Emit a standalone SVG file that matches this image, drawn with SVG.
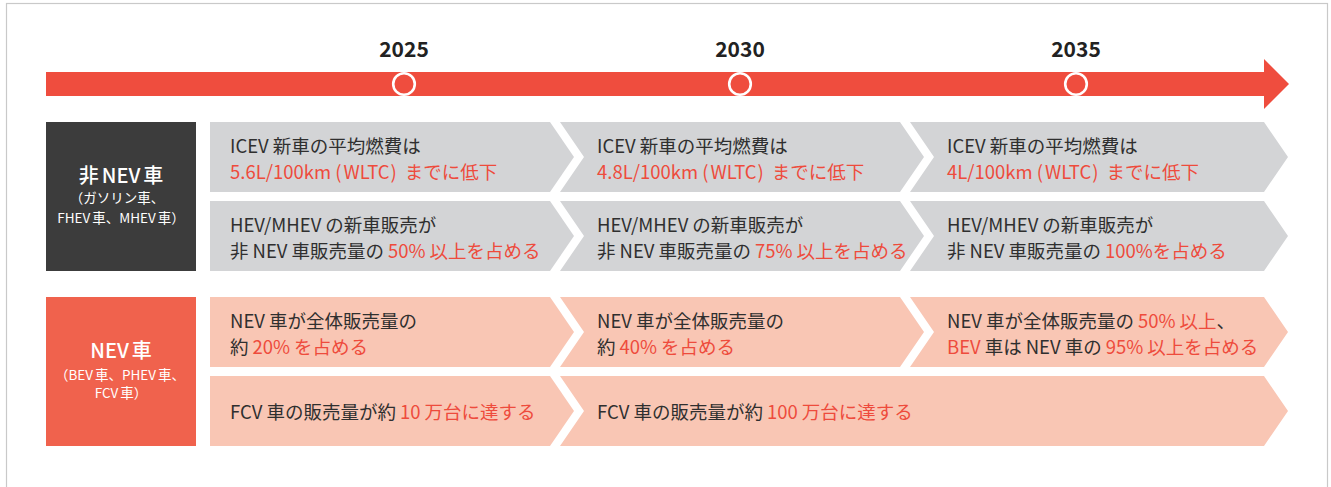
<svg xmlns="http://www.w3.org/2000/svg" width="1331" height="487" viewBox="0 0 1331 487">
<style>
.frame{fill:#fff;stroke:#c9c9c9;stroke-width:1.2}
.g{fill:#d3d4d6}
.p{fill:#f9c6b4}
.t{font-family:"Noto Sans CJK JP","Noto Sans",sans-serif;font-size:18.5px;fill:#2f2f2f;font-weight:400}
.r{fill:#ee4b3c}
.yr{font-family:"Noto Sans CJK JP","Noto Sans",sans-serif;font-size:21px;font-weight:700;fill:#222;text-anchor:middle}
.h{font-family:"Noto Sans CJK JP","Noto Sans",sans-serif;fill:#fff;text-anchor:middle}
.h1{font-size:20px;font-weight:500}
.h2{font-size:13.5px;font-weight:400}
.dot{fill:none;stroke:#fff;stroke-width:2.6}
</style>
<rect class="frame" x="6.5" y="3.5" width="1321" height="520"/>
<g id="timeline">
  <polygon fill="#ef4d3e" points="46,72 1264,72 1264,59 1289,84 1264,109 1264,96 46,96"/>
  <circle class="dot" cx="404" cy="84" r="10.8"/>
  <circle class="dot" cx="740" cy="84" r="10.8"/>
  <circle class="dot" cx="1076" cy="84" r="10.8"/>
  <text class="yr" x="404" y="57">2025</text>
  <text class="yr" x="740" y="57">2030</text>
  <text class="yr" x="1076" y="57">2035</text>
</g>
<g id="cat-nonnev">
  <rect x="46" y="122" width="150" height="149" fill="#3c3c3c"/>
  <text class="h h1" x="121" y="183">非<tspan dx="3">NEV</tspan><tspan dx="3">車</tspan></text>
  <text class="h h2" x="117" y="203">（ガソリン車、</text>
  <text class="h h2" x="121" y="223">FHEV<tspan dx="2">車、</tspan>MHEV<tspan dx="2">車）</tspan></text>
</g>
<g id="cat-nev">
  <rect x="46" y="297" width="150" height="149" fill="#f0624d"/>
  <text class="h h1" x="121" y="358">NEV<tspan dx="3">車</tspan></text>
  <text class="h h2" x="120" y="380">（BEV<tspan dx="2">車、</tspan>PHEV<tspan dx="2">車、</tspan></text>
  <text class="h h2" x="121" y="398">FCV<tspan dx="2">車）</tspan></text>
</g>
<g id="r1c1">
  <polygon class="g" points="210,122 550,122 574,157 550,192 210,192"/>
  <text class="t" x="230" y="153">ICEV<tspan dx="4">新車の平均燃費は</tspan></text>
  <text class="t r" x="230" y="179">5.6L/100km<tspan dx="4">(</tspan><tspan dx="2">WLTC</tspan><tspan dx="1">)</tspan><tspan dx="8">までに低下</tspan></text>
</g>
<g id="r1c2">
  <polygon class="g" points="560,122 900,122 924,157 900,192 560,192 584,157"/>
  <text class="t" x="597" y="153">ICEV<tspan dx="4">新車の平均燃費は</tspan></text>
  <text class="t r" x="597" y="179">4.8L/100km<tspan dx="4">(</tspan><tspan dx="2">WLTC</tspan><tspan dx="1">)</tspan><tspan dx="8">までに低下</tspan></text>
</g>
<g id="r1c3">
  <polygon class="g" points="910,122 1264,122 1288,157 1264,192 910,192 934,157"/>
  <text class="t" x="947" y="153">ICEV<tspan dx="4">新車の平均燃費は</tspan></text>
  <text class="t r" x="947" y="179">4L/100km<tspan dx="4">(</tspan><tspan dx="2">WLTC</tspan><tspan dx="1">)</tspan><tspan dx="8">までに低下</tspan></text>
</g>
<g id="r2c1">
  <polygon class="g" points="210,201 550,201 574,236 550,271 210,271"/>
  <text class="t" x="230" y="232">HEV/MHEV<tspan dx="4">の新車販売が</tspan></text>
  <text class="t" x="230" y="258">非<tspan dx="4">NEV</tspan><tspan dx="4">車販売量の</tspan><tspan class="r" dx="4">50%</tspan><tspan class="r" dx="4">以上を占める</tspan></text>
</g>
<g id="r2c2">
  <polygon class="g" points="560,201 900,201 924,236 900,271 560,271 584,236"/>
  <text class="t" x="597" y="232">HEV/MHEV<tspan dx="4">の新車販売が</tspan></text>
  <text class="t" x="597" y="258">非<tspan dx="4">NEV</tspan><tspan dx="4">車販売量の</tspan><tspan class="r" dx="4">75%</tspan><tspan class="r" dx="4">以上を占める</tspan></text>
</g>
<g id="r2c3">
  <polygon class="g" points="910,201 1264,201 1288,236 1264,271 910,271 934,236"/>
  <text class="t" x="947" y="232">HEV/MHEV<tspan dx="4">の新車販売が</tspan></text>
  <text class="t" x="947" y="258">非<tspan dx="4">NEV</tspan><tspan dx="4">車販売量の</tspan><tspan class="r" dx="4">100%を占める</tspan></text>
</g>
<g id="r3c1">
  <polygon class="p" points="210,297 550,297 574,332 550,367 210,367"/>
  <text class="t" x="230" y="328">NEV<tspan dx="4">車が全体販売量の</tspan></text>
  <text class="t" x="230" y="354">約<tspan class="r" dx="4">20%</tspan><tspan class="r" dx="4">を占める</tspan></text>
</g>
<g id="r3c2">
  <polygon class="p" points="560,297 900,297 924,332 900,367 560,367 584,332"/>
  <text class="t" x="597" y="328">NEV<tspan dx="4">車が全体販売量の</tspan></text>
  <text class="t" x="597" y="354">約<tspan class="r" dx="4">40%</tspan><tspan class="r" dx="4">を占める</tspan></text>
</g>
<g id="r3c3">
  <polygon class="p" points="910,297 1264,297 1288,332 1264,367 910,367 934,332"/>
  <text class="t" x="947" y="328">NEV<tspan dx="4">車が全体販売量の</tspan><tspan class="r" dx="4">50%</tspan><tspan class="r" dx="4">以上</tspan>、</text>
  <text class="t" x="947" y="354"><tspan class="r">BEV</tspan><tspan dx="4">車は</tspan><tspan dx="4">NEV</tspan><tspan dx="4">車の</tspan><tspan class="r" dx="4">95%</tspan><tspan class="r" dx="4">以上を占める</tspan></text>
</g>
<g id="r4c1">
  <polygon class="p" points="210,376 550,376 574,411 550,446 210,446"/>
  <text class="t" x="230" y="419">FCV<tspan dx="4">車の販売量が約</tspan><tspan class="r" dx="4">10</tspan><tspan class="r" dx="4">万台に達する</tspan></text>
</g>
<g id="r4c2">
  <polygon class="p" points="560,376 1264,376 1288,411 1264,446 560,446 584,411"/>
  <text class="t" x="597" y="419">FCV<tspan dx="4">車の販売量が約</tspan><tspan class="r" dx="4">100</tspan><tspan class="r" dx="4">万台に達する</tspan></text>
</g>
</svg>
